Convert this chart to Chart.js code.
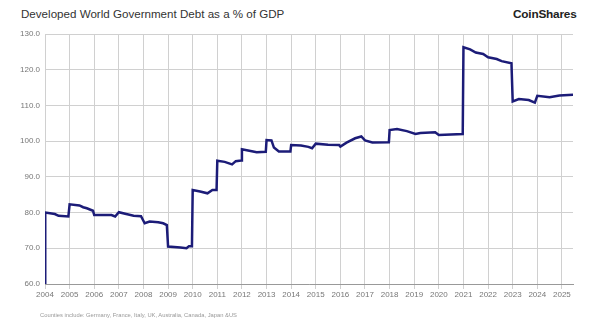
<!DOCTYPE html>
<html>
<head>
<meta charset="utf-8">
<script src="https://cdn.jsdelivr.net/npm/chart.js@4"></script>
<style>
  html, body { margin:0; padding:0; background:#fff; }
  #wrap { position:relative; width:600px; height:330px; overflow:hidden; font-family:"Liberation Sans", Arial, sans-serif; }
  #title { position:absolute; left:21px; top:7px; font-size:11.6px; color:#333; }
  #brand { position:absolute; left:513px; top:7px; font-size:11.8px; color:#222; font-weight:bold; letter-spacing:-0.2px; }
  #note { position:absolute; left:40px; top:312px; font-size:5.8px; color:#999; }
  canvas { position:absolute; left:0; top:0; }
</style>
</head>
<body>
<div id="wrap">
  <div id="title">Developed World Government Debt as a % of GDP</div>
  <div id="brand">CoinShares</div>
  <canvas id="c" width="600" height="330"></canvas>
  <div id="note">Counties include: Germany, France, Italy, UK, Australia, Canada, Japan &amp;US</div>
</div>
<script>
const years = [
  2004.0, 2004.01, 2004.4, 2004.55, 2004.95, 2005.0, 2005.4, 2005.55, 2005.7, 2005.95,
  2006.0, 2006.7, 2006.85, 2007.0, 2007.3, 2007.6, 2007.9, 2008.05, 2008.25, 2008.6,
  2008.8, 2008.95, 2009.0, 2009.5, 2009.75, 2009.85, 2009.97, 2010.0, 2010.3, 2010.6,
  2010.8, 2010.97, 2011.0, 2011.3, 2011.6, 2011.75, 2011.97, 2012.0, 2012.3, 2012.6,
  2012.97, 2013.0, 2013.2, 2013.3, 2013.5, 2013.97, 2014.0, 2014.4, 2014.7, 2014.85,
  2015.0, 2015.5, 2015.95, 2016.0, 2016.25, 2016.6, 2016.85, 2017.0, 2017.3, 2017.97,
  2018.0, 2018.3, 2018.7, 2019.05, 2019.25, 2019.85, 2020.0, 2020.97, 2021.0, 2021.27,
  2021.5, 2021.8, 2022.0, 2022.35, 2022.55, 2022.95, 2023.0, 2023.25, 2023.65, 2023.9,
  2024.0, 2024.5, 2024.9, 2025.45
];
const debtPct = [
  60.0, 80.0, 79.6, 79.1, 78.9, 82.3, 82.0, 81.5, 81.2, 80.5,
  79.3, 79.3, 78.9, 80.1, 79.6, 79.1, 79.0, 77.0, 77.5, 77.3,
  77.0, 76.5, 70.5, 70.2, 70.0, 70.6, 70.6, 86.3, 85.9, 85.4,
  86.3, 86.3, 94.5, 94.2, 93.5, 94.4, 94.6, 97.7, 97.3, 96.9,
  97.0, 100.3, 100.2, 98.2, 97.1, 97.1, 98.9, 98.8, 98.4, 98.0,
  99.3, 99.0, 98.9, 98.5, 99.6, 100.8, 101.3, 100.2, 99.6, 99.7,
  103.1, 103.4, 102.8, 102.0, 102.3, 102.5, 101.7, 102.0, 126.3, 125.7,
  124.8, 124.4, 123.5, 123.0, 122.4, 121.8, 111.1, 111.8, 111.5, 110.8,
  112.7, 112.3, 112.8, 113.0
];
const yearTicks = [2004,2005,2006,2007,2008,2009,2010,2011,2012,2013,2014,2015,2016,2017,2018,2019,2020,2021,2022,2023,2024,2025];
const yTicks = [60,70,80,90,100,110,120,130];

const points = years.map((x, i) => ({ x: x, y: debtPct[i] }));

new Chart(document.getElementById('c'), {
  type: 'line',
  data: { datasets: [{
    data: points,
    borderColor: '#1c1c78',
    borderWidth: 2.5,
    pointRadius: 0,
    tension: 0,
    fill: false
  }]},
  options: {
    responsive: false,
    animation: false,
    plugins: { legend: { display:false }, tooltip: { enabled:false } },
    layout: { padding: { left:0, right:27, top:34, bottom:0 } },
    scales: {
      x: {
        type: 'linear',
        min: 2004, max: 2025.45,
        afterBuildTicks: s => { s.ticks = yearTicks.map(v => ({ value: v })); },
        afterFit: s => { s.height = 46; },
        ticks: { color:'#777', font:{ family:'Liberation Sans, Arial', size:8 }, maxRotation:0, autoSkip:false, padding:1,
                 callback: v => String(v) },
        grid: { color:'#d0d0d0', lineWidth:1, drawTicks:true, tickLength:5 },
        border: { color:'#999' }
      },
      y: {
        min: 60, max: 130,
        afterBuildTicks: s => { s.ticks = yTicks.map(v => ({ value: v })); },
        afterFit: s => { s.width = 45; },
        ticks: { color:'#777', font:{ family:'Liberation Sans, Arial', size:8 }, padding:5,
                 callback: v => Number(v).toFixed(1) },
        grid: { color:'#d0d0d0', lineWidth:1, drawTicks:false },
        border: { display:false }
      }
    }
  }
});
</script>
</body>
</html>
